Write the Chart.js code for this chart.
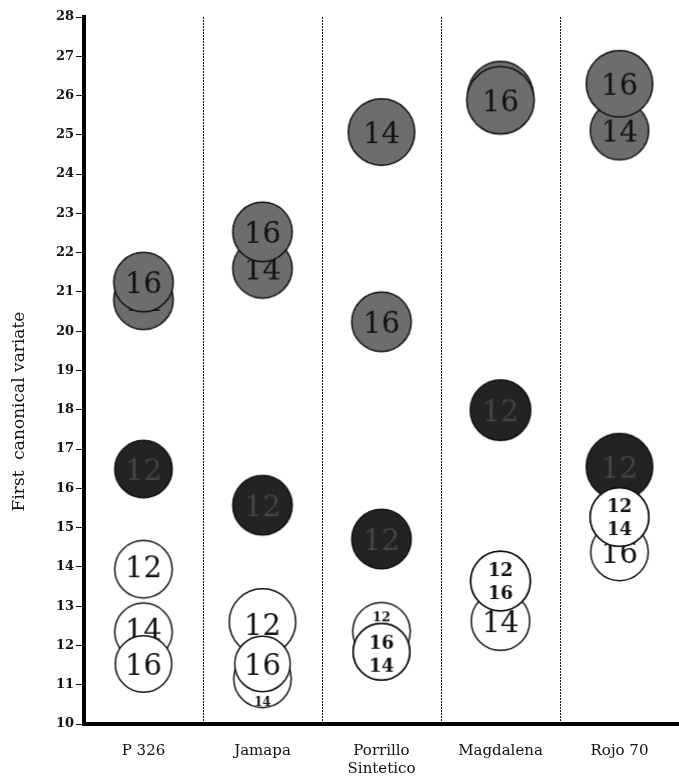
<!DOCTYPE html>
<html>
<head>
<meta charset="utf-8">
<script src="https://cdn.jsdelivr.net/npm/chart.js@4.4.1/dist/chart.umd.min.js"></script>
<style>
  html, body { margin: 0; padding: 0; background: #ffffff; }
  #wrap { width: 679px; height: 778px; }
</style>
</head>
<body>
<div id="wrap"><canvas id="c" width="679" height="778"></canvas></div>
<script>
// ---------------- data ----------------
const categories = ['P 326', 'Jamapa', 'Porrillo Sintetico', 'Magdalena', 'Rojo 70'];
const tickLabels = [['P 326'], ['Jamapa'], ['Porrillo', 'Sintetico'], ['Magdalena'], ['Rojo 70']];
const yMin = 10;
const yMax = 28;
const yStep = 1;
const yTitle = 'First  canonical variate';

// shaded (grey) circles, in drawing order
const shadedCategory = ['P 326', 'P 326', 'P 326',
  'Jamapa', 'Jamapa', 'Jamapa',
  'Porrillo Sintetico', 'Porrillo Sintetico', 'Porrillo Sintetico',
  'Magdalena', 'Magdalena', 'Magdalena',
  'Rojo 70', 'Rojo 70', 'Rojo 70'];
const shadedValue = [20.8, 21.25, 16.49,
  21.6, 22.53, 15.57,
  25.07, 20.24, 14.71,
  26.05, 25.88, 17.99,
  25.11, 26.3, 16.55];
const shadedLabel = ['14', '16', '12',
  '14', '16', '12',
  '14', '16', '12',
  '14', '16', '12',
  '14', '16', '12'];

// open (white) circles, in drawing order
const openCategory = ['P 326', 'P 326', 'P 326',
  'Jamapa', 'Jamapa', 'Jamapa',
  'Porrillo Sintetico', 'Porrillo Sintetico', 'Porrillo Sintetico',
  'Magdalena', 'Magdalena', 'Magdalena',
  'Rojo 70', 'Rojo 70', 'Rojo 70'];
const openValue = [13.94, 12.35, 11.53,
  12.6, 11.15, 11.53,
  12.36, 11.84, 11.84,
  12.62, 13.64, 13.64,
  14.38, 15.27, 15.27];
const openLabel = ['12', '14', '16',
  '12', '14', '16',
  '12', '14', '16',
  '14', '16', '12',
  '16', '14', '12'];
// text shown on each open circle (coincident circles share one combined label)
const openShown = ['12', '14', '16',
  '12', '14', '16',
  '12', '', '16\n14',
  '14', '', '12\n16',
  '16', '', '12\n14'];

// ---------------- styles (kept apart from data) ----------------
const shadedRadius = [30.5, 30.5, 29.5, 30.5, 30.5, 30.5, 34, 30.5, 30.5, 33, 34.5, 31, 30, 34, 34];
const openRadius = [29.5, 29.5, 29, 34, 29.5, 28.5, 29.5, 29, 29, 30, 30.5, 30.5, 29.5, 30, 30];
const openTextStyle = ['big', 'big', 'big', 'big', 'tiny', 'big', 'small', 'none', 'bold', 'big', 'none', 'bold', 'big', 'none', 'bold'];
const openTextShift = [-3, -3, 0, 2, 23, 0, -15, 0, 2, 0, 0, 0, 0, 0, 0];

const SERIF = '"DejaVu Serif", "Liberation Serif", serif';

function makeTile(a, b) {
  const t = document.createElement('canvas');
  t.width = 2; t.height = 2;
  const g = t.getContext('2d');
  g.fillStyle = a; g.fillRect(0, 0, 2, 2);
  g.fillStyle = b; g.fillRect(0, 0, 1, 1); g.fillRect(1, 1, 1, 1);
  return t;
}
const midTile = makeTile('#2e2e2e', '#acacac');
const darkTile = makeTile('#101010', '#363636');

function circleCanvas(r, kind, text, style, shift) {
  let size = Math.ceil(2 * r + 4);
  if (size % 2) size += 1;
  const c = document.createElement('canvas');
  c.width = size; c.height = size;
  const g = c.getContext('2d');
  const cx = size / 2, cy = size / 2;
  g.beginPath();
  g.arc(cx, cy, r - 0.75, 0, Math.PI * 2);
  if (kind === 'open') g.fillStyle = '#ffffff';
  else g.fillStyle = g.createPattern(kind === 'dark' ? darkTile : midTile, 'repeat');
  g.fill();
  g.lineWidth = 1.5;
  g.strokeStyle = '#111111';
  g.stroke();
  if (!text || style === 'none') return c;
  g.textAlign = 'center';
  g.textBaseline = 'alphabetic';
  let size_ = 29, weight = 'normal', gap = 0;
  if (style === 'bold') { size_ = 18; weight = 'bold'; gap = 23; }
  if (style === 'small') { size_ = 13; weight = 'bold'; }
  if (style === 'tiny') { size_ = 12; weight = 'bold'; }
  g.font = weight + ' ' + size_ + 'px ' + SERIF;
  g.fillStyle = kind === 'dark' ? '#454545' : '#111111';
  const lines = text.split('\n');
  const cap = size_ * 0.73;
  const y0 = cy + shift - (lines.length - 1) * gap / 2;
  lines.forEach((ln, i) => {
    g.fillText(ln, cx, y0 + i * gap + cap / 2);
  });
  return c;
}

const shadedImages = shadedLabel.map((lab, i) =>
  circleCanvas(shadedRadius[i], lab === '12' ? 'dark' : 'mid', lab, 'big', 0));
const openImages = openShown.map((lab, i) =>
  circleCanvas(openRadius[i], 'open', lab, openTextStyle[i], openTextShift[i]));

const yTitlePlugin = {
  id: 'yTitlePlugin',
  afterDraw(chart) {
    const { ctx, chartArea } = chart;
    ctx.save();
    ctx.translate(20, (chartArea.top + chartArea.bottom) / 2 + 41);
    ctx.rotate(-Math.PI / 2);
    ctx.font = '17px ' + SERIF;
    ctx.fillStyle = '#111111';
    ctx.textAlign = 'center';
    ctx.textBaseline = 'middle';
    ctx.fillText(yTitle, 0, 0);
    ctx.restore();
  }
};

new Chart(document.getElementById('c'), {
  type: 'scatter',
  data: {
    datasets: [
      {
        label: 'open',
        data: openValue.map((v, i) => ({ x: openCategory[i], y: v, lab: openLabel[i] })),
        pointStyle: ctx => openImages[ctx.dataIndex],
        pointRadius: ctx => openRadius[ctx.dataIndex],
        pointHoverRadius: ctx => openRadius[ctx.dataIndex]
      },
      {
        label: 'shaded',
        data: shadedValue.map((v, i) => ({ x: shadedCategory[i], y: v, lab: shadedLabel[i] })),
        pointStyle: ctx => shadedImages[ctx.dataIndex],
        pointRadius: ctx => shadedRadius[ctx.dataIndex],
        pointHoverRadius: ctx => shadedRadius[ctx.dataIndex]
      }
    ]
  },
  options: {
    responsive: false,
    animation: false,
    events: [],
    layout: { autoPadding: false, padding: { top: 17, right: 0, bottom: 0, left: 0 } },
    plugins: { legend: { display: false }, tooltip: { enabled: false } },
    scales: {
      x: {
        type: 'category',
        labels: categories,
        offset: true,
        grid: {
          offset: true,
          drawTicks: false,
          lineWidth: 1,
          color: ctx => (ctx.index === 0 || ctx.index === categories.length) ? 'rgba(0,0,0,0)' : '#111111'
        },
        border: { display: true, color: '#000000', width: 4, dash: [2, 1] },
        ticks: {
          autoSkip: false,
          maxRotation: 0,
          padding: 18,
          color: '#111111',
          font: { family: SERIF, size: 15, lineHeight: 1.2 },
          callback: (v, i) => tickLabels[i]
        },
        afterFit: s => { s.height = 54; }
      },
      y: {
        min: yMin,
        max: yMax,
        ticks: {
          stepSize: yStep,
          padding: 2,
          color: '#111111',
          font: { family: SERIF, size: 13, weight: 'bold' }
        },
        grid: { drawOnChartArea: false, drawTicks: true, tickLength: 8, tickColor: '#111111', tickWidth: 1 },
        border: { display: true, color: '#000000', width: 4 },
        afterFit: s => { s.width = 84; }
      }
    }
  },
  plugins: [yTitlePlugin]
});
</script>
</body>
</html>
